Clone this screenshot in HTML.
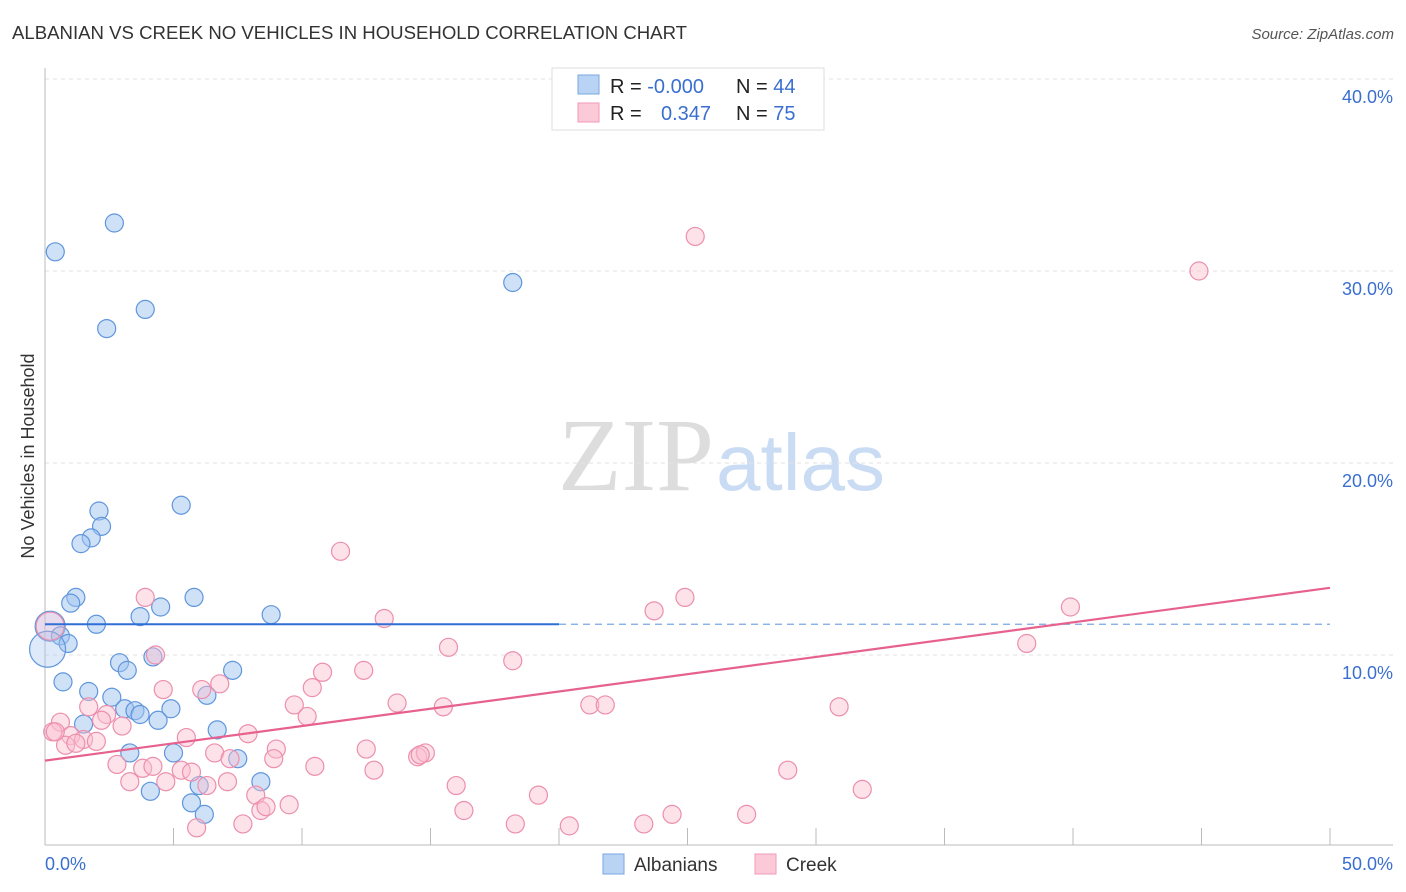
<!DOCTYPE html>
<html><head><meta charset="utf-8"><style>
body{margin:0;background:#fff;font-family:"Liberation Sans",sans-serif}
svg{display:block}
</style></head><body>
<svg id="c" width="1406" height="892">
<text x="12" y="39" font-size="18.6" fill="#333">ALBANIAN VS CREEK NO VEHICLES IN HOUSEHOLD CORRELATION CHART</text>
<text x="1394" y="39" font-size="15" fill="#555" font-style="italic" text-anchor="end">Source: ZipAtlas.com</text>
<text x="714" y="490" font-size="104" fill="#ddd" text-anchor="end" font-family="Liberation Serif">ZIP</text>
<text x="716" y="490" font-size="80" fill="#c9dcf3">atlas</text>
<text transform="translate(34,456) rotate(-90)" font-size="18" fill="#333" text-anchor="middle">No Vehicles in Household</text>
<g id="grid"></g><g id="marks"></g>
<g>
<rect x="552" y="68" width="272" height="62" fill="#fff" stroke="#ddd"/>
<rect x="578" y="75" width="21" height="19" fill="#b9d3f5" stroke="#7aa7e0"/>
<rect x="578" y="103" width="21" height="19" fill="#fbc9d8" stroke="#f09ab4"/>
<text x="610" y="93" font-size="20" fill="#222">R = <tspan fill="#3a6fd0">-0.000</tspan></text>
<text x="736" y="93" font-size="20" fill="#222">N = <tspan fill="#3a6fd0">44</tspan></text>
<text x="610" y="120" font-size="20" fill="#222">R = </text>
<text x="661" y="120" font-size="20" fill="#3a6fd0">0.347</text>
<text x="736" y="120" font-size="20" fill="#222">N = <tspan fill="#3a6fd0">75</tspan></text>
</g>
<g>
<rect x="603" y="854" width="21" height="20" fill="#b9d3f5" stroke="#7aa7e0"/>
<text x="634" y="871" font-size="19" fill="#333">Albanians</text>
<rect x="755" y="854" width="21" height="20" fill="#fbc9d8" stroke="#f09ab4"/>
<text x="786" y="871" font-size="19" fill="#333">Creek</text>
</g>
</svg>
<script>
const yTicks=[10,20,30,40];
const yTickLabels=["10.0%","20.0%","30.0%","40.0%"];
const xTickLabels=["0.0%","50.0%"];
const blueX=[0.4,2.7,2.4,3.9,18.2,5.3,2.1,2.2,1.8,1.4,1.2,1.0,5.8,4.5,3.7,8.8,2.0,0.2,0.6,0.9,0.1,4.2,2.9,3.2,7.3,0.7,1.7,6.3,2.6,3.1,3.5,3.7,4.9,4.4,1.5,6.7,3.3,5.0,7.5,4.1,6.0,8.4,5.7,6.2];
const blueY=[31.0,32.5,27.0,28.0,29.4,17.8,17.5,16.7,16.1,15.8,13.0,12.7,13.0,12.5,12.0,12.1,11.6,11.5,11.0,10.6,10.3,9.9,9.6,9.2,9.2,8.6,8.1,7.9,7.8,7.2,7.1,6.9,7.2,6.6,6.4,6.1,4.9,4.9,4.6,2.9,3.2,3.4,2.3,1.7];
const blueR=[9,9,9,9,9,9,9,9,9,9,9,9,9,9,9,9,9,15,9,9,18,9,9,9,9,9,9,9,9,9,9,9,9,9,9,9,9,9,9,9,9,9,9,9];
const pinkX=[11.5,3.9,13.2,15.7,4.3,10.8,12.4,10.4,6.8,6.1,4.6,9.7,10.2,13.7,15.5,1.7,2.4,2.2,0.6,3.0,0.3,1.0,0.8,1.5,1.2,2.0,5.5,7.9,6.6,7.2,9.0,8.9,2.8,3.8,4.2,5.3,5.7,10.5,12.8,14.5,14.8,3.3,4.7,6.3,7.1,8.2,16.0,8.4,8.6,9.5,16.3,5.9,7.7,25.3,44.9,39.9,38.2,23.7,24.9,18.2,21.2,21.8,30.9,28.9,31.8,19.2,18.3,20.4,23.3,24.4,27.3,0.2,0.4,14.6,12.5];
const pinkY=[15.4,13.0,11.9,10.4,10.0,9.1,9.2,8.3,8.5,8.2,8.2,7.4,6.8,7.5,7.3,7.3,6.9,6.6,6.5,6.3,6.0,5.8,5.3,5.6,5.4,5.5,5.7,5.9,4.9,4.6,5.1,4.6,4.3,4.1,4.2,4.0,3.9,4.2,4.0,4.7,4.9,3.4,3.4,3.2,3.4,2.7,3.2,1.9,2.1,2.2,1.9,1.0,1.2,31.8,30.0,12.5,10.6,12.3,13.0,9.7,7.4,7.4,7.3,4.0,3.0,2.7,1.2,1.1,1.2,1.7,1.7,11.5,6.0,4.8,5.1];
const pinkR=[9,9,9,9,9,9,9,9,9,9,9,9,9,9,9,9,9,9,9,9,9,9,9,9,9,9,9,9,9,9,9,9,9,9,9,9,9,9,9,9,9,9,9,9,9,9,9,9,9,9,9,9,9,9,9,9,9,9,9,9,9,9,9,9,9,9,9,9,9,9,9,14,9,9,9];
const blueLine=[11.6,11.6];
const pinkLine=[4.5,13.5];
const X=v=>45+v/50*1285, Y=v=>847-v*19.2;
const NS="http://www.w3.org/2000/svg";
function mk(t,a,p){const e=document.createElementNS(NS,t);for(const k in a)e.setAttribute(k,a[k]);p.appendChild(e);return e;}
const g=document.getElementById('grid'), m=document.getElementById('marks');
yTicks.forEach((t,i)=>{
 const l=mk('line',{x1:45,x2:1393,y1:Y(t),y2:Y(t),stroke:'#e2e2e2','stroke-dasharray':'4,4'},g);
 
 
 const tx=mk('text',{x:1393,y:Y(t)+24,'font-size':18,fill:'#3a6fd0','text-anchor':'end'},g);
 tx.textContent=yTickLabels[i];
 
 
});
const ax=mk('line',{x1:45,x2:1393,y1:845,y2:845,stroke:'#bbb'},g);


const ay=mk('line',{x1:45,x2:45,y1:68,y2:845,stroke:'#bbb'},g);


for(let i=1;i<=10;i++){const t=mk('line',{x1:X(i*5),x2:X(i*5),y1:828,y2:845,stroke:'#bbb'},g);
 
 }
[[0,'start',45],[1,'end',1393]].forEach(([i,a,x])=>{const t=mk('text',{x:x,y:870,'font-size':18,fill:'#3a6fd0','text-anchor':a},g);t.textContent=xTickLabels[i];
 
 });
blueX.forEach((v,i)=>{const c=mk('circle',{cx:X(v),cy:Y(blueY[i]),r:blueR[i],fill:blueR[i]>9?'rgba(160,196,240,0.35)':'rgba(160,196,240,0.5)',stroke:'#5f96dc','stroke-width':1.2},m);
 
 });
pinkX.forEach((v,i)=>{const c=mk('circle',{cx:X(v),cy:Y(pinkY[i]),r:pinkR[i],fill:pinkR[i]>9?'rgba(250,190,208,0.3)':'rgba(250,190,208,0.45)',stroke:'#ec8fad','stroke-width':1.2},m);
 
 });
const b1=mk('line',{x1:X(0),x2:X(20),y1:Y(blueLine[0]),y2:Y(blueLine[0]+(blueLine[1]-blueLine[0])*0.4),stroke:'#2f6fd6','stroke-width':2},m);


const b2=mk('line',{x1:X(20),x2:X(50),y1:Y(blueLine[0]),y2:Y(blueLine[1]),stroke:'#7aa7e0','stroke-width':1.2,'stroke-dasharray':'7,5'},m);


const p1=mk('line',{x1:X(0),x2:X(50),y1:Y(pinkLine[0]),y2:Y(pinkLine[1]),stroke:'#e7618f','stroke-width':2.2},m);


</script>
</body></html>
